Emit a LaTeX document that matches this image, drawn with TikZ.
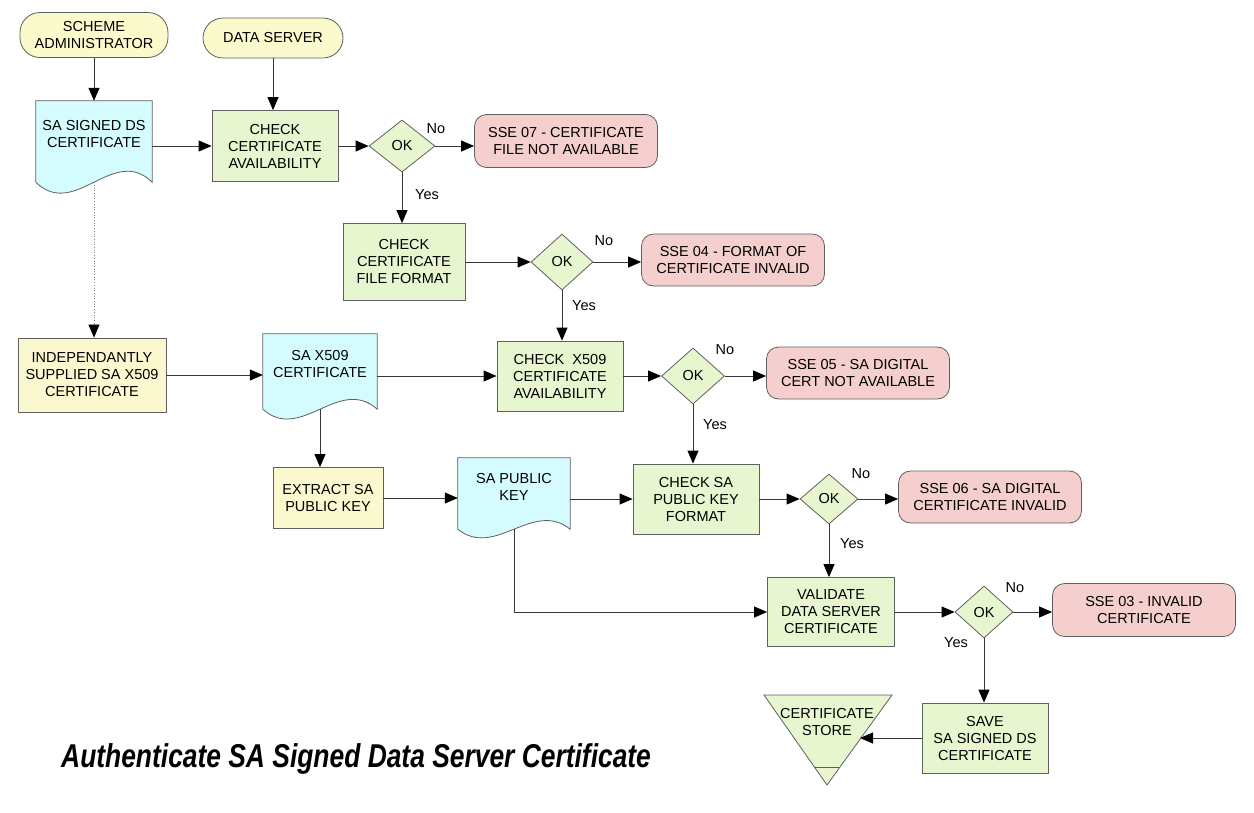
\documentclass[tikz,border=0pt]{standalone}
\usepackage{fontspec}
\setmainfont{Liberation Sans}
\newfontfamily\titlefont{Liberation Sans}[FakeStretch=0.80]
\usetikzlibrary{arrows.meta,shapes.geometric,calc}
\pgfdeclarelayer{background}
\pgfsetlayers{background,main}
\definecolor{termfill}{RGB}{250,250,204}
\definecolor{docfill}{RGB}{212,252,255}
\definecolor{procfill}{RGB}{232,246,208}
\definecolor{inputfill}{RGB}{250,248,206}
\definecolor{errfill}{RGB}{245,206,206}
\definecolor{edgecol}{RGB}{95,95,95}
\definecolor{wirecol}{RGB}{55,55,55}
\newcommand\docshape[2]{%
  \begin{pgfonlayer}{background}
  \draw[shapeline, fill=docfill] let \p1=(#1.south west), \p2=(#1.south east) in
    (#1.north west) -- (#1.north east) -- (\x2,\y2-14pt)
    .. controls ({\x1+2*(\x2-\x1)/3},{\y2-14pt+#2}) and ({\x1+(\x2-\x1)/3},{\y2-14pt-#2}) ..
    (\x1,\y2-14pt) -- cycle;
  \end{pgfonlayer}}
\begin{document}
\begin{tikzpicture}[x=1pt,y=-1pt,
  font=\fontsize{14.5}{17}\selectfont,
  shapeline/.style={draw=edgecol, line width=0.8pt},
  base/.style={shapeline, align=center, inner sep=1pt},
  term/.style={base, rectangle, rounded corners=20pt, fill=termfill},
  proc/.style={base, rectangle, fill=procfill, minimum width=126pt, minimum height=70pt},
  inp/.style={base, rectangle, fill=inputfill},
  err/.style={base, rectangle, rounded corners=12pt, fill=errfill, minimum width=183pt, minimum height=52pt},
  dec/.style={base, diamond, fill=procfill, minimum width=62pt, minimum height=54pt, inner sep=0pt},
  doc/.style={align=center, inner sep=0pt},
  lbl/.style={inner sep=0pt},
  wire/.style={draw=wirecol, line width=0.8pt, -{Triangle[length=13pt,width=11pt,color=black]}},
  dotwire/.style={draw=gray, line width=0.7pt, dotted, -{Triangle[length=13pt,width=11pt,color=black]}}
]
\useasboundingbox (0,0) rectangle (1254,812);

% terminators
\node[term, minimum width=148pt, minimum height=45pt] (adm) at (94,35) {SCHEME\\ADMINISTRATOR};
\node[term, minimum width=140pt, minimum height=40pt] (dsrv) at (273,38) {DATA SERVER};

% documents
\node[doc, minimum width=116pt, minimum height=67pt] (d1) at (94,134.5) {SA SIGNED DS\\CERTIFICATE};
\docshape{d1}{38pt}
\node[doc, minimum width=114pt, minimum height=61pt] (d2) at (320,364.5) {SA X509\\CERTIFICATE};
\docshape{d2}{34pt}
\node[doc, minimum width=112pt, minimum height=57pt] (d3) at (514,486.5) {SA PUBLIC\\KEY};
\docshape{d3}{30pt}
\coordinate (d1b) at ($(d1.south)+(0,14)$);
\coordinate (d2b) at ($(d2.south)+(0,14)$);
\coordinate (d3b) at ($(d3.south)+(0,14)$);

% processes
\node[proc, minimum height=71pt] (c1) at (275,146) {CHECK\\CERTIFICATE\\AVAILABILITY};
\node[proc, minimum width=122pt, minimum height=77pt] (c2) at (404,262) {CHECK\\CERTIFICATE\\FILE FORMAT};
\node[proc] (c3) at (560,376) {CHECK\ \ X509\\CERTIFICATE\\AVAILABILITY};
\node[proc] (c4) at (696,499) {CHECK SA\\PUBLIC KEY\\FORMAT};
\node[proc, minimum width=127pt, minimum height=69pt] (c5) at (831,612) {VALIDATE\\DATA SERVER\\CERTIFICATE};
\node[proc] (save) at (985,738) {SAVE\\SA SIGNED DS\\CERTIFICATE};

% inputs
\node[inp, minimum width=148pt, minimum height=74pt] (indep) at (92,375) {INDEPENDANTLY\\SUPPLIED SA X509\\CERTIFICATE};
\node[inp, minimum width=110pt, minimum height=61pt] (extract) at (328,498) {EXTRACT SA\\PUBLIC KEY};

% decisions
\node[dec, minimum width=66pt, minimum height=52pt] (k1) at (402,146) {OK};
\node[dec, minimum height=56pt] (k2) at (562,262) {OK};
\node[dec, minimum width=63pt, minimum height=56pt] (k3) at (693,376) {OK};
\node[dec, minimum width=58pt, minimum height=50pt] (k4) at (829,499) {OK};
\node[dec, minimum width=58pt, minimum height=52pt] (k5) at (984,612) {OK};

% errors
\node[err, minimum height=53pt] (e07) at (566,141) {SSE 07 - CERTIFICATE\\FILE NOT AVAILABLE};
\node[err] (e04) at (733,260) {SSE 04 - FORMAT OF\\CERTIFICATE INVALID};
\node[err] (e05) at (858,373) {SSE 05 - SA DIGITAL\\CERT NOT AVAILABLE};
\node[err] (e06) at (990,497) {SSE 06 - SA DIGITAL\\CERTIFICATE INVALID};
\node[err, minimum height=53pt] (e03) at (1144,610) {SSE 03 - INVALID\\CERTIFICATE};

% certificate store
\draw[shapeline, fill=procfill] (764,695) -- (892,695) -- (827,785) -- cycle;
\draw[shapeline] (814,767) -- (840,767);
\node[doc] (store) at (827,722) {CERTIFICATE\\STORE};
\coordinate (storein) at (860,738);

% labels
\node[lbl] (no1) at (436,129) {No};
\node[lbl] (yes1) at (427,195) {Yes};
\node[lbl] (no2) at (604,241) {No};
\node[lbl] (yes2) at (584,306) {Yes};
\node[lbl] (no3) at (725,350) {No};
\node[lbl] (yes3) at (715,425) {Yes};
\node[lbl] (no4) at (861,474) {No};
\node[lbl] (yes4) at (852,544) {Yes};
\node[lbl] (no5) at (1015,588) {No};
\node[lbl] (yes5) at (956,643) {Yes};

% title
\node[anchor=base west, inner sep=0pt, font=\titlefont\fontsize{33}{38}\selectfont\bfseries\itshape] (title) at (61,767) {Authenticate SA Signed Data Server Certificate};

% connectors
\draw[wire] (adm.south) -- (adm.south |- d1.north);
\draw[wire] (dsrv.south) -- (dsrv.south |- c1.north);
\draw[wire] (c1.west -| d1.east) -- (c1.west);
\draw[wire] (c1.east) -- (k1.west);
\draw[wire] (k1.east) -- (k1.east -| e07.west);
\draw[wire] (k1.south) -- (k1.south |- c2.north);
\draw[wire] (c2.east) -- (k2.west);
\draw[wire] (k2.east) -- (k2.east -| e04.west);
\draw[wire] (k2.south) -- (k2.south |- c3.north);
\draw[dotwire] (d1b) -- (d1b |- indep.north);
\draw[wire] (indep.east) -- (indep.east -| d2.west);
\draw[wire] (c3.west -| d2.east) -- (c3.west);
\draw[wire] (c3.east) -- (k3.west);
\draw[wire] (k3.east) -- (k3.east -| e05.west);
\draw[wire] (k3.south) -- (k3.south |- c4.north);
\draw[wire] (d2b) -- (d2b |- extract.north);
\draw[wire] (extract.east) -- (extract.east -| d3.west);
\draw[wire] (c4.west -| d3.east) -- (c4.west);
\draw[wire] (c4.east) -- (k4.west);
\draw[wire] (k4.east) -- (k4.east -| e06.west);
\draw[wire] (k4.south) -- (k4.south |- c5.north);
\draw[wire] (d3b) |- (c5.west);
\draw[wire] (c5.east) -- (k5.west);
\draw[wire] (k5.east) -- (k5.east -| e03.west);
\draw[wire] (k5.south) -- (k5.south |- save.north);
\draw[wire] (save.west) -- (storein);
\end{tikzpicture}
\end{document}
